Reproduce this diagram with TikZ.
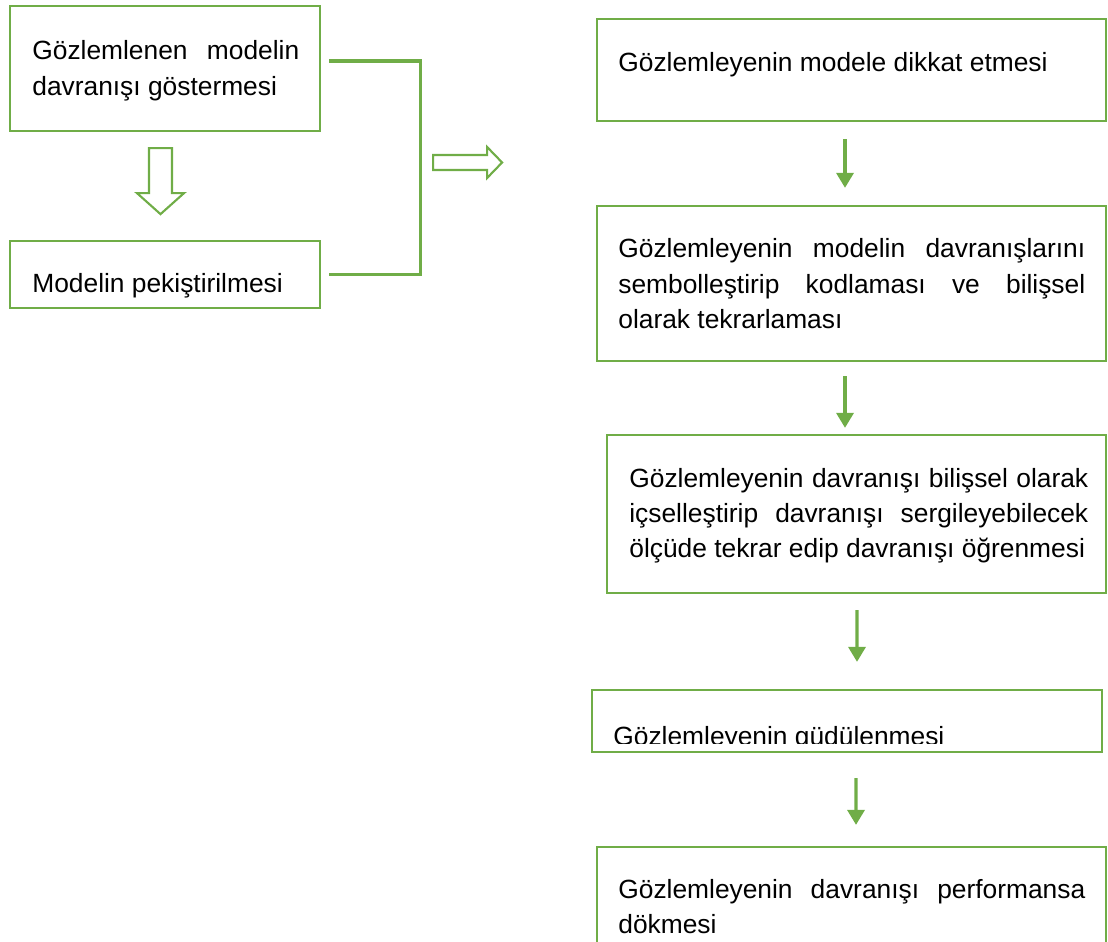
\documentclass[tikz,border=0pt]{standalone}
\usepackage{fontspec}
\setmainfont{Liberation Sans}
\usetikzlibrary{arrows.meta,calc}
\definecolor{ogreen}{RGB}{112,173,71}
\tolerance=10000 \pretolerance=10000

\begin{document}
\begin{tikzpicture}[x=0.02cm,y=-0.02cm,
  box/.style={draw=ogreen,line width=1.3pt,rectangle,inner sep=0pt},
  txt/.style={anchor=base west,inner sep=0pt,font=\fontsize{15}{20}\selectfont},
  para/.style={txt,align=justify},
  flow/.style={draw=ogreen,line width=1.9pt,-{Triangle[width=0.34cm,length=0.3cm]}},
  hollow/.style={draw=ogreen,line width=1.2pt,fill=white,line join=miter},
  bracket/.style={draw=ogreen,line width=1.8pt}]
  \useasboundingbox (0,0) rectangle (1108,942);

  % left side
  \node[box,minimum width=6.2cm,minimum height=2.5cm] (gozlem) at (165,68.5) {};
  \node[box,minimum width=6.2cm,minimum height=1.34cm] (pekis) at (165,274.5) {};
  \node[para,text width=5.34cm] (gozlem-t) at (32,60) {G\"ozlemlenen modelin\linebreak davran\i\c{s}\i\ g\"ostermesi};
  \node[txt] (pekis-t) at (32,293) {Modelin peki\c{s}tirilmesi};

  \draw[hollow] ($(gozlem.south)+(-16,16)$) -- ++(23,0) -- ++(0,45) -- ++(12,0)
    -- ++(-23.5,21) -- ++(-23.5,-21) -- ++(12,0) -- cycle;
  \draw[bracket] ($(gozlem.east)+(8,-7.5)$) -- ++(91,0) |- ($(pekis.east)+(8,0)$);
  \draw[hollow] ($(gozlem.east)+(112,86.5)$) -- ++(54,0) -- ++(0,-8) -- ++(15,15.5)
    -- ++(-15,15.5) -- ++(0,-8) -- ++(-54,0) -- cycle;

  % right side
  \node[box,minimum width=10.18cm,minimum height=2.04cm] (att) at (851.5,70) {};
  \node[box,minimum width=10.18cm,minimum height=3.1cm] (kod) at (851.5,283.5) {};
  \node[box,minimum width=9.98cm,minimum height=3.16cm] (icsel) at (856.5,514) {};
  \node[box,minimum width=10.2cm,minimum height=1.24cm] (gud) at (847,721) {};
  \node[box,minimum width=10.18cm,minimum height=3.06cm] (perf) at (851.5,923.5) {};

  \node[txt] (att-t) at (618,72) {G\"ozlemleyenin modele dikkat etmesi};
  \node[para,text width=9.34cm] (kod-t) at (618,258) {G\"ozlemleyenin modelin davran\i\c{s}lar\i n\i\linebreak
    sembolle\c{s}tirip kodlamas\i\ ve bili\c{s}sel\linebreak olarak tekrarlamas\i};
  \node[para,text width=9.18cm] (icsel-t) at (629,487) {G\"ozlemleyenin davran\i\c{s}\i\ bili\c{s}sel olarak\linebreak
    i\c{c}selle\c{s}tirip davran\i\c{s}\i\ sergileyebilecek\linebreak \"ol\c{c}\"ude tekrar edip davran\i\c{s}\i\ \"o\u{g}renmesi};
  \begin{scope}
    \clip (590,690) rectangle (1104,743);
    \node[txt] (gud-t) at (613,745) {G\"ozlemleyenin g\"ud\"ulenmesi};
  \end{scope}
  \node[para,text width=9.34cm] (perf-t) at (618,898) {G\"ozlemleyenin davran\i\c{s}\i\ performansa\linebreak d\"okmesi};

  \draw[flow] ($(att.south)+(-6.5,17)$) -- ($(kod.north)+(-6.5,-17)$);
  \draw[flow] ($(kod.south)+(-6.5,14)$) -- ($(icsel.north)+(-11.5,-6)$);
  \draw[flow] ($(icsel.south)+(0.5,16)$) -- ($(gud.north)+(10,-27)$);
  \draw[flow] ($(gud.south)+(9,25)$) -- ($(perf.north)+(4.5,-21)$);
\end{tikzpicture}
\end{document}
